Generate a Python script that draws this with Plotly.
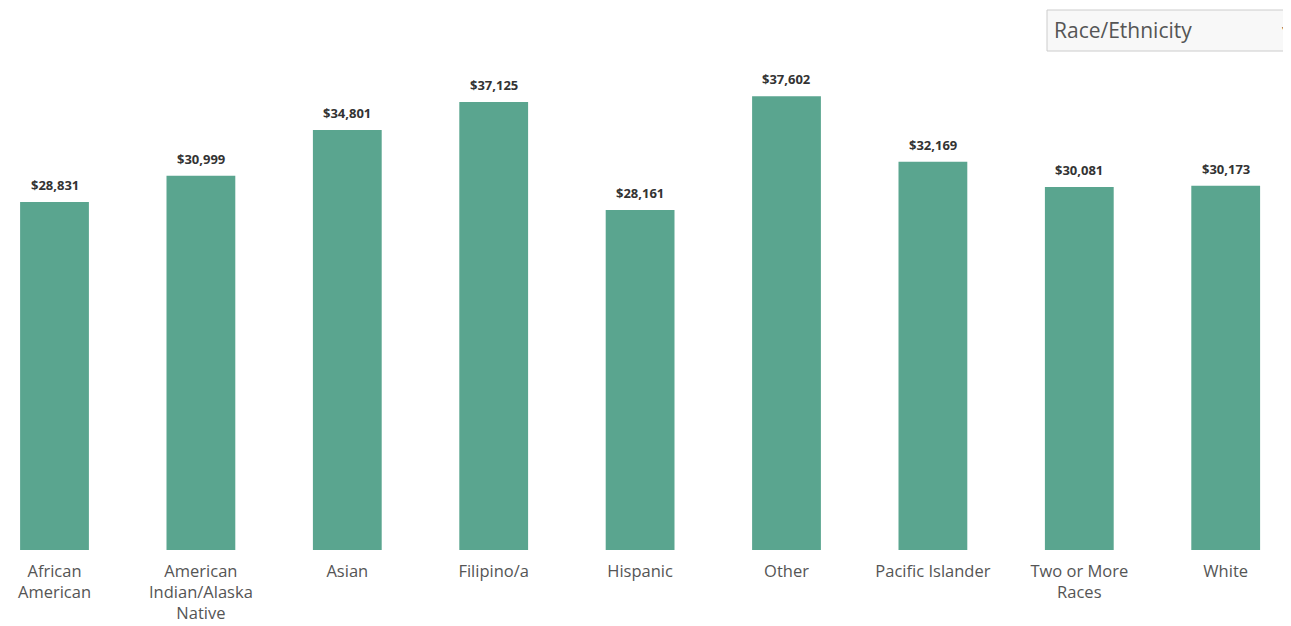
import plotly.graph_objects as go

categories = ["African American", "American Indian/Alaska Native", "Asian", "Filipino/a",
              "Hispanic", "Other", "Pacific Islander", "Two or More Races", "White"]
tick_labels = ["African<br>American", "American<br>Indian/Alaska<br>Native", "Asian", "Filipino/a",
               "Hispanic", "Other", "Pacific Islander", "Two or More<br>Races", "White"]
values = [28831, 30999, 34801, 37125, 28161, 37602, 32169, 30081, 30173]
value_labels = ["$28,831", "$30,999", "$34,801", "$37,125", "$28,161", "$37,602", "$32,169", "$30,081", "$30,173"]

OFF = 8  # default page body margin
W, H = 1291 - OFF, 626 - OFF
BASE = 550 - OFF
xs = list(range(len(categories)))

fig = go.Figure()
fig.add_trace(go.Bar(
    x=xs, y=values, width=0.47,
    marker=dict(color="#5aa58f", line=dict(width=0)),
    hoverinfo="skip",
))

for x, v, t in zip(xs, values, value_labels):
    fig.add_annotation(x=x, y=v, text="<b>" + t + "</b>", showarrow=False,
                       yanchor="bottom", yshift=6,
                       font=dict(family="Open Sans", size=13, color="#333333"))

# dropdown look-alike (page pixel coords converted to paper)
def px(p):
    return (p - OFF) / W

def py(p):
    return 1 - (p - OFF) / BASE

fig.add_shape(type="rect", xref="paper", yref="paper",
              x0=px(1047), x1=px(1300), y0=py(51), y1=py(10),
              line=dict(color="#cccccc", width=1), fillcolor="#f8f8f8", layer="below")
fig.add_annotation(xref="paper", yref="paper", x=px(1052), y=py(30), text="Race/Ethnicity",
                   showarrow=False, xanchor="left", yanchor="middle",
                   font=dict(family="Open Sans", size=21, color="#555555"))
fig.add_annotation(xref="paper", yref="paper", x=px(1285), y=py(30), text="▼",
                   showarrow=False, xanchor="center", yanchor="middle",
                   font=dict(family="DejaVu Sans", size=9, color="#333333"))

scale = 146.4
a = -(54.5 - OFF) / scale
b = a + W / scale
fig.update_layout(
    width=W, height=H,
    margin=dict(l=0, r=0, t=0, b=H - BASE, autoexpand=False),
    plot_bgcolor="white", paper_bgcolor="white",
    showlegend=False,
    xaxis=dict(range=[a, b], tickmode="array", tickvals=xs, ticktext=tick_labels,
               automargin=False,
               showgrid=False, zeroline=False, showline=False, ticks="",
               tickfont=dict(family="Open Sans", size=16.5, color="#555555"),
               ticklabelstandoff=9),
    # pixel scale identical to reference: 0.01207 px per dollar
    yaxis=dict(range=[0, BASE / 0.01207], visible=False, showgrid=False, zeroline=False,
               automargin=False),
)

fig.write_html("out.html")
